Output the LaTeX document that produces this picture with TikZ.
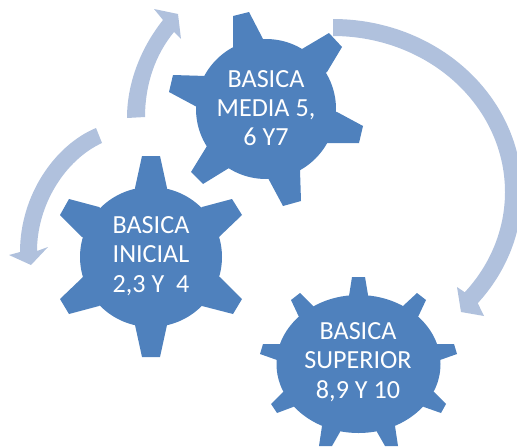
\documentclass[tikz,border=0pt]{standalone}
\usepackage{fontspec}
\setmainfont{Carlito}
\definecolor{gearblue}{HTML}{4F81BD}
\definecolor{arrowblue}{HTML}{B0C1DD}
\tikzset{
  x=0.75pt,y=-0.75pt,
  gear/.style={fill=gearblue},
  arrowshape/.style={fill=arrowblue},
  gearlabel/.style={text=white,align=center,font=\fontsize{19.6}{22}\selectfont,inner sep=0pt}
}
\begin{document}
\begin{tikzpicture}
\useasboundingbox (0,0) rectangle (517,446);
\clip (0,0) rectangle (517,446);
% arrows
\fill[arrowshape] plot[smooth,domain=0:130,samples=40,variable=\t] ({333+189*sin(\t)},{192-173*cos(\t)})
  -- (484,316) -- (461,312) -- (457,287)
  -- plot[smooth,domain=130:0,samples=40,variable=\t] ({333+172*sin(\t)},{192-156*cos(\t)}) -- cycle;
\fill[arrowshape] (127,118) .. controls (127,80) and (143,45) .. (163,20) -- (154,9) -- (178,14) -- (181,39) -- (174,32)
  .. controls (155,55) and (145,85) .. (145,117) -- cycle;
\fill[arrowshape] (96,128) .. controls (55,145) and (20,195) .. (20,252) -- (9,255) -- (31,265) -- (48,247) -- (37,251)
  .. controls (37,205) and (65,160) .. (102,143) -- cycle;
% gear inicial
\fill[gear] (151,257) ellipse [x radius=71,y radius=70];
\fill[gear] (135,188) -- (142,156) -- (160,156) -- (167,188) -- (151,257) -- cycle;
\fill[gear] (202,207) -- (232,199) -- (242,215) -- (219,237) -- (151,257) -- cycle;
\fill[gear] (220,277) -- (242,299) -- (233,314) -- (202,306) -- (151,257) -- cycle;
\fill[gear] (135,325) -- (142,357) -- (160,357) -- (167,325) -- (151,257) -- cycle;
\fill[gear] (99,306) -- (69,314) -- (60,299) -- (83,277) -- (151,257) -- cycle;
\fill[gear] (82,237) -- (60,215) -- (69,199) -- (99,207) -- (151,257) -- cycle;
% gear media
\fill[gear] (266,109) ellipse [x radius=70,y radius=70];
\fill[gear] (233,47) -- (233,16) -- (249,12) -- (263,39) -- (266,109) -- cycle;
\fill[gear] (302,49) -- (329,33) -- (342,47) -- (327,72) -- (266,109) -- cycle;
\fill[gear] (337,112) -- (363,126) -- (359,143) -- (327,143) -- (266,109) -- cycle;
\fill[gear] (300,170) -- (301,201) -- (283,206) -- (268,178) -- (266,109) -- cycle;
\fill[gear] (229,168) -- (203,184) -- (191,172) -- (207,146) -- (266,109) -- cycle;
\fill[gear] (197,107) -- (169,92) -- (173,75) -- (206,76) -- (266,109) -- cycle;
% gear superior
\fill[gear] (358.5,364) ellipse [x radius=82,y radius=69];
\fill[gear] (349,296) -- (352,277) -- (365,277) -- (368,295) -- (358.5,364) -- cycle;
\fill[gear] (403,306) -- (417,293) -- (426,300) -- (418,317) -- (358.5,364) -- cycle;
\fill[gear] (437,344) -- (454,344) -- (457,354) -- (440,360) -- (358.5,364) -- cycle;
\fill[gear] (434,392) -- (446,404) -- (441,413) -- (424,407) -- (358.5,364) -- cycle;
\fill[gear] (377,432) -- (385,446) -- (398,446) -- (395,426) -- (358.5,364) -- cycle;
\fill[gear] (340,432) -- (332,446) -- (319,446) -- (322,426) -- (358.5,364) -- cycle;
\fill[gear] (283,392) -- (271,404) -- (277,413) -- (293,407) -- (358.5,364) -- cycle;
\fill[gear] (281,344) -- (263,344) -- (260,354) -- (277,360) -- (358.5,364) -- cycle;
\fill[gear] (299,317) -- (291,300) -- (300,293) -- (313,306) -- (358.5,364) -- cycle;
% labels
\node[gearlabel] (inicial) at (151,256) {BASICA\\INICIAL\\2,3 Y\ \ 4};
\node[gearlabel] (media) at (266,108) {BASICA\\MEDIA 5,\\6 Y7};
\node[gearlabel] (superior) at (358,362) {BASICA\\SUPERIOR\\8,9 Y 10};
\end{tikzpicture}
\end{document}
